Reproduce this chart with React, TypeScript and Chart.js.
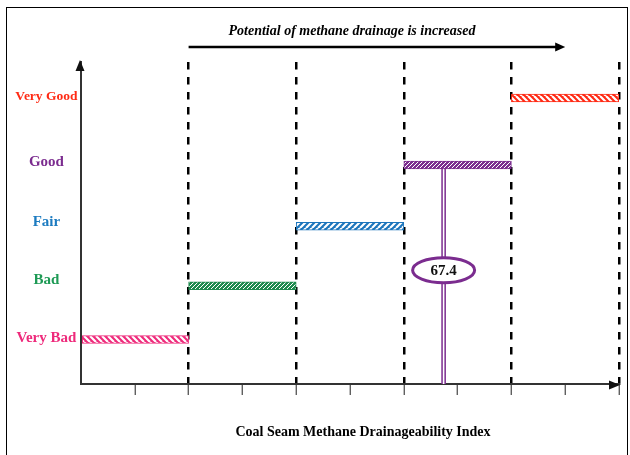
import React, { useEffect, useRef } from 'react';
import { Chart, registerables } from 'chart.js';

Chart.register(...registerables);

// ---- data ----
const categories = ['Very Bad', 'Bad', 'Fair', 'Good', 'Very Good'];
const levelY = [0.83, 1.83, 2.94, 4.08, 5.33];
const labelY = [0.85, 1.94, 3.02, 4.14, 5.35];
const rangeStart = [0, 20, 40, 60, 80];
const rangeEnd = [20, 40, 60, 80, 100];
const barColors = ['#EE2A7B', '#1E8B4E', '#1C75BC', '#7B2C8F', '#FF2A14'];
const labelColors = ['#EE2A7B', '#1E9A55', '#1C7BC0', '#7B2C8F', '#FF2A14'];
const hatchDir = ['\\', '/', '/', '/', '\\'];
const hatchDense = [false, true, false, true, false];
const labelSizes = [15, 15, 15, 15, 13.5];
const xMin = 0;
const xMax = 100;
const xStep = 10;
const yMin = 0;
const yMax = 6;
const boundaryTicks = [20, 40, 60, 80, 100];
const indexValue = 67.4;
const indexLevel = 3; // Good
const indexLabelY = 2.12;
const arrowFrom = 20;
const arrowTo = 90;
const topCaption = 'Potential of methane drainage is increased';
const xTitle = 'Coal Seam Methane Drainageability Index';

const SERIF = "'Liberation Serif', 'Times New Roman', serif";

function makePattern(color: string, dir: string, dense: boolean): CanvasPattern | string {
  const s = dense ? 4 : 6;
  const c = document.createElement('canvas');
  c.width = s;
  c.height = s;
  const g = c.getContext('2d');
  if (!g) return color;
  g.fillStyle = color;
  g.fillRect(0, 0, s, s);
  g.strokeStyle = '#ffffff';
  g.lineWidth = dense ? 1 : 2.2;
  g.beginPath();
  if (dir === '/') {
    for (let k = -1; k <= 1; k++) {
      g.moveTo(k * s, s);
      g.lineTo(k * s + s, 0);
    }
  } else {
    for (let k = -1; k <= 1; k++) {
      g.moveTo(k * s, 0);
      g.lineTo(k * s + s, s);
    }
  }
  g.stroke();
  const p = g.createPattern(c, 'repeat');
  return p || color;
}

const overlayPlugin = {
  id: 'overlayPlugin',
  afterDatasetsDraw(chart: any) {
    const { ctx, scales } = chart;
    const xs = scales.x;
    const ys = scales.y;
    const cx = xs.getPixelForValue(indexValue);
    const cy = ys.getPixelForValue(indexLabelY);
    ctx.save();
    ctx.beginPath();
    ctx.ellipse(cx, cy, 31, 12.5, 0, 0, Math.PI * 2);
    ctx.fillStyle = '#ffffff';
    ctx.fill();
    ctx.lineWidth = 3;
    ctx.strokeStyle = barColors[indexLevel];
    ctx.stroke();
    ctx.fillStyle = '#111';
    ctx.font = `bold 15px ${SERIF}`;
    ctx.textAlign = 'center';
    ctx.textBaseline = 'middle';
    ctx.fillText(String(indexValue), cx, cy + 1);
    ctx.restore();
  },
  afterDraw(chart: any) {
    const { ctx, scales, chartArea } = chart;
    const xs = scales.x;
    const left = chartArea.left;
    const right = chartArea.right;
    const top = chartArea.top;
    const bottom = chartArea.bottom;
    ctx.save();
    // y axis arrowhead
    ctx.fillStyle = '#111';
    ctx.beginPath();
    ctx.moveTo(left - 1, top - 2);
    ctx.lineTo(left - 5.5, top + 9);
    ctx.lineTo(left + 3.5, top + 9);
    ctx.closePath();
    ctx.fill();
    // x axis arrowhead
    ctx.beginPath();
    ctx.moveTo(right + 1, bottom + 1);
    ctx.lineTo(right - 10, bottom - 3.5);
    ctx.lineTo(right - 10, bottom + 5.5);
    ctx.closePath();
    ctx.fill();
    // top arrow
    const ax1 = xs.getPixelForValue(arrowFrom);
    const ax2 = xs.getPixelForValue(arrowTo);
    const ay = 47;
    ctx.strokeStyle = '#000';
    ctx.fillStyle = '#000';
    ctx.lineWidth = 2.5;
    ctx.beginPath();
    ctx.moveTo(ax1, ay);
    ctx.lineTo(ax2 - 6, ay);
    ctx.stroke();
    ctx.beginPath();
    ctx.moveTo(ax2, ay);
    ctx.lineTo(ax2 - 10, ay - 4.5);
    ctx.lineTo(ax2 - 10, ay + 4.5);
    ctx.closePath();
    ctx.fill();
    // captions
    ctx.textAlign = 'center';
    ctx.textBaseline = 'middle';
    ctx.font = `italic bold 14px ${SERIF}`;
    ctx.fillText(topCaption, (left + right) / 2 + 2, 31);
    ctx.font = `bold 14px ${SERIF}`;
    ctx.fillText(xTitle, (left + right) / 2 + 13, 432);
    ctx.restore();
  },
};

export default function App() {
  const ref = useRef<HTMLCanvasElement | null>(null);
  useEffect(() => {
    const canvas = ref.current;
    if (!canvas) return;
    const patterns = categories.map((_, i) => makePattern(barColors[i], hatchDir[i], hatchDense[i]));
    const barData = categories.map((_, i) => ({ x: [rangeStart[i], rangeEnd[i]], y: levelY[i] }));
    const lineData = [
      { x: indexValue, y: levelY[indexLevel] },
      { x: indexValue, y: yMin },
    ];
    const chart = new Chart(canvas, {
      type: 'bar',
      data: {
        datasets: [
          {
            type: 'bar',
            data: barData as any,
            backgroundColor: patterns as any,
            borderColor: barColors,
            borderWidth: 1,
            borderSkipped: false,
            barThickness: 8,
            order: 0,
          } as any,
          {
            type: 'line',
            data: lineData as any,
            borderColor: '#ffffff',
            borderWidth: 1.6,
            pointRadius: 0,
            order: 1,
          } as any,
          {
            type: 'line',
            data: lineData as any,
            borderColor: barColors[indexLevel],
            borderWidth: 4.6,
            pointRadius: 0,
            order: 2,
          } as any,
        ],
      },
      options: {
        indexAxis: 'y',
        animation: false,
        responsive: false,
        devicePixelRatio: 1,
        layout: { padding: { left: 0, top: 62, right: 11, bottom: 0 } },
        plugins: { legend: { display: false }, tooltip: { enabled: false }, title: { display: false } },
        scales: {
          x: {
            type: 'linear',
            position: 'bottom',
            min: xMin,
            max: xMax,
            offset: false,
            afterFit: (s: any) => {
              s.height = 71;
            },
            ticks: { stepSize: xStep, autoSkip: false, callback: () => '', padding: 0 },
            grid: {
              display: true,
              offset: false,
              drawOnChartArea: true,
              drawTicks: true,
              tickLength: 11,
              lineWidth: 2.5,
              color: (c: any) => (c.tick && boundaryTicks.includes(c.tick.value) ? '#000' : 'rgba(0,0,0,0)'),
              tickColor: (c: any) => (c.tick && c.tick.value === xMin ? 'rgba(0,0,0,0)' : '#444'),
              tickWidth: 1.2,
            },
            border: { display: true, color: '#333', width: 2, dash: [7.5, 7.5] },
          },
          y: {
            type: 'linear',
            position: 'left',
            min: yMin,
            max: yMax,
            offset: false,
            afterFit: (s: any) => {
              s.width = 81;
            },
            afterBuildTicks: (s: any) => {
              s.ticks = labelY.map((v) => ({ value: v }));
            },
            ticks: {
              autoSkip: false,
              padding: 3.5,
              crossAlign: 'center',
              callback: (_v: any, i: number) => categories[i],
              color: (c: any) => labelColors[c.index],
              font: (c: any) => ({ family: SERIF, size: labelSizes[c.index] || 15, weight: 'bold' }),
            },
            grid: { display: false, drawTicks: false, offset: false },
            border: { display: true, color: '#333', width: 2 },
          },
        },
      } as any,
      plugins: [overlayPlugin],
    });
    return () => chart.destroy();
  }, []);
  return (
    <div style={{ position: 'absolute', left: 0, top: 0, width: 630, height: 455, background: '#fff' }}>
      <div
        style={{
          position: 'absolute',
          left: 6,
          top: 7,
          width: 620,
          height: 470,
          borderLeft: '1.5px solid #000',
          borderTop: '1.5px solid #000',
          borderRight: '1.5px solid #000',
        }}
      />
      <canvas ref={ref} width={630} height={455} style={{ position: 'absolute', left: 0, top: 0 }} />
    </div>
  );
}
